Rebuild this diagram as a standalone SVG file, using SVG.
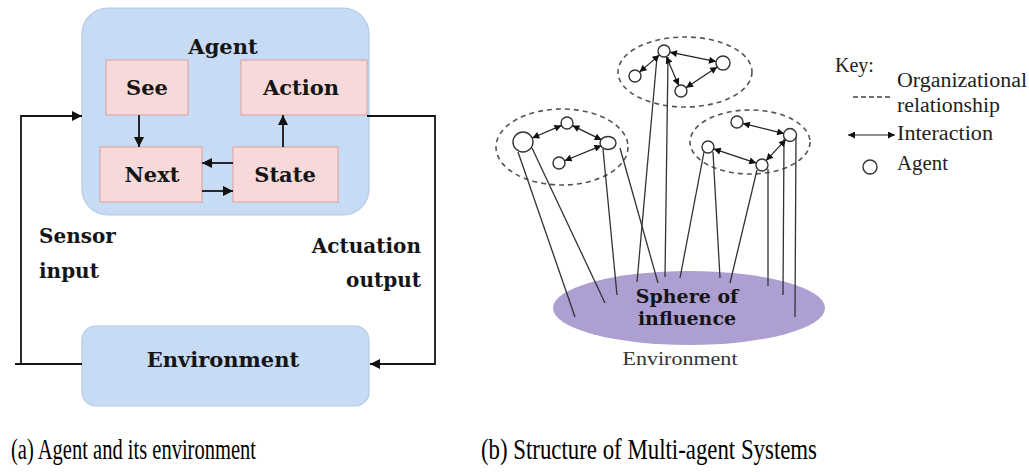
<svg xmlns="http://www.w3.org/2000/svg" width="1029" height="472" viewBox="0 0 1029 472">
<style>
.bx{fill:#c7dbf5;stroke:#b3c9e6;stroke-width:1.2}
.pk{fill:#f8d9d9;stroke:#dba9a9;stroke-width:1.2}
.bt{font-family:"DejaVu Serif",serif;font-weight:bold;fill:#151515}
.ln{fill:none;stroke:#151515;stroke-width:1.8}
.rl{fill:none;stroke:#333;stroke-width:1.3}
.ag{fill:#fff;stroke:#333;stroke-width:1.4}
.org{fill:none;stroke:#555;stroke-width:1.6;stroke-dasharray:5 4}
.ia{fill:none;stroke:#222;stroke-width:1.2;marker-start:url(#sa);marker-end:url(#sa)}
.kt{font-family:"Liberation Serif",serif;font-size:20px;fill:#222}
.cap{font-family:"Liberation Serif",serif;font-size:29px;fill:#000}
</style>
<defs>
<marker id="la" viewBox="0 0 10 10" refX="10" refY="5" markerWidth="11" markerHeight="10" markerUnits="userSpaceOnUse" orient="auto-start-reverse"><path d="M0,0 L10,5 L0,10 z" fill="#111"/></marker>
<marker id="sa" viewBox="0 0 10 10" refX="10" refY="5" markerWidth="8" markerHeight="7" markerUnits="userSpaceOnUse" orient="auto-start-reverse"><path d="M0,0 L10,5 L0,10 z" fill="#111"/></marker>
</defs>
<rect width="1029" height="472" fill="#fff"/>

<!-- Left figure -->
<g id="agent">
<rect class="bx" x="82" y="8" width="287" height="207" rx="26"/>
<text class="bt" x="223" y="54" font-size="21" text-anchor="middle">Agent</text>
</g>
<g id="see"><rect class="pk" x="106" y="60" width="82" height="55"/><text class="bt" x="147" y="95" font-size="21" text-anchor="middle">See</text></g>
<g id="action"><rect class="pk" x="241" y="60" width="126" height="55"/><text class="bt" x="301" y="95" font-size="21" text-anchor="middle">Action</text></g>
<g id="next"><rect class="pk" x="100" y="147" width="102" height="55"/><text class="bt" x="152" y="182" font-size="21" text-anchor="middle">Next</text></g>
<g id="state"><rect class="pk" x="233" y="147" width="105" height="55"/><text class="bt" x="285" y="182" font-size="21" text-anchor="middle">State</text></g>
<g id="environment-a">
<rect class="bx" x="82" y="326" width="287" height="80" rx="14"/>
<text class="bt" x="223" y="367" font-size="21" text-anchor="middle">Environment</text>
</g>
<g id="connectors-a">
<path class="ln" d="M82,364 H15"/>
<path class="ln" d="M21,364 V116 H82" marker-end="url(#la)"/>
<path class="ln" d="M367,116 H435 V364 H370" marker-end="url(#la)"/>
<path class="ln" d="M139,115 V147" marker-end="url(#la)"/>
<path class="ln" d="M283,147 V115" marker-end="url(#la)"/>
<path class="ln" d="M233,163 H202" marker-end="url(#la)"/>
<path class="ln" d="M202,191 H233" marker-end="url(#la)"/>
</g>
<g id="labels-a">
<text class="bt" x="39" y="243" font-size="20">Sensor</text>
<text class="bt" x="39" y="278" font-size="20">input</text>
<text class="bt" x="421" y="253" font-size="20" text-anchor="end">Actuation</text>
<text class="bt" x="421" y="287" font-size="20" text-anchor="end">output</text>
</g>

<!-- Right figure -->
<g id="sphere">
<ellipse cx="689" cy="308" rx="136" ry="37" fill="#ad9fd1"/>
</g>
<g id="orgs">
<ellipse class="org" cx="562" cy="147" rx="66" ry="38"/>
<ellipse class="org" cx="685" cy="72" rx="67" ry="35"/>
<ellipse class="org" cx="750" cy="142" rx="60" ry="32"/>
</g>
<g id="connectors-b">
<path class="rl" d="M518,152 L575,317"/>
<path class="rl" d="M532,148 L605,303"/>
<path class="rl" d="M603,149 L617,295"/>
<path class="rl" d="M620,148 L658,283"/>
<path class="rl" d="M657,57 L637,282"/>
<path class="rl" d="M668,57 L665,277"/>
<path class="rl" d="M704,152 L680,278"/>
<path class="rl" d="M713,152 L720,278"/>
<path class="rl" d="M757,170 L730,283"/>
<path class="rl" d="M768,169 L768,286"/>
<path class="rl" d="M784,139 L783,295"/>
<path class="rl" d="M796,137 L795,317"/>
<path class="ia" d="M532.2,138 L561.5,125.4"/>
<path class="ia" d="M572.4,125.6 L601.7,139.9"/>
<path class="ia" d="M601.5,145.6 L564.6,160.7"/>
<path class="ia" d="M659.5,54.9 L639.5,72.1"/>
<path class="ia" d="M669.9,52.2 L716.1,61.6"/>
<path class="ia" d="M717.2,66.9 L686,87.7"/>
<path class="ia" d="M666.3,56.5 L678.7,85.5"/>
<path class="ia" d="M742.8,123.4 L784.2,133.6"/>
<path class="ia" d="M713.7,148.9 L756.3,163.1"/>
<path class="ia" d="M766.1,160.6 L785.9,139.4"/>
</g>
<g id="agents-left">
<circle class="ag" cx="523" cy="142" r="10"/>
<circle class="ag" cx="567" cy="123" r="6"/>
<ellipse class="ag" cx="608" cy="143" rx="8" ry="6.5"/>
<circle class="ag" cx="559" cy="163" r="6"/>
</g>
<g id="agents-top">
<circle class="ag" cx="664" cy="51" r="6"/>
<circle class="ag" cx="723" cy="63" r="7"/>
<circle class="ag" cx="635" cy="76" r="6"/>
<circle class="ag" cx="681" cy="91" r="6"/>
</g>
<g id="agents-right">
<circle class="ag" cx="737" cy="122" r="6"/>
<circle class="ag" cx="790" cy="135" r="6.5"/>
<circle class="ag" cx="708" cy="147" r="6"/>
<circle class="ag" cx="762" cy="165" r="6"/>
</g>
<g id="sphere-label">
<text class="bt" x="687" y="303" font-size="19" text-anchor="middle" fill="#1e1530">Sphere of</text>
<text class="bt" x="687" y="325" font-size="19" text-anchor="middle" fill="#1e1530">influence</text>
<text x="680" y="365" font-family="Liberation Serif, serif" font-size="19" fill="#333" text-anchor="middle" textLength="115" lengthAdjust="spacingAndGlyphs">Environment</text>
</g>
<g id="key">
<text class="kt" x="835" y="72">Key:</text>
<text class="kt" x="897" y="87" textLength="130" lengthAdjust="spacingAndGlyphs">Organizational</text>
<path d="M853,97 H893" stroke="#444" stroke-width="1.3" stroke-dasharray="5 3"/>
<text class="kt" x="897" y="112" textLength="103" lengthAdjust="spacingAndGlyphs">relationship</text>
<path class="ia" d="M848,135 H895"/>
<text class="kt" x="897" y="140" textLength="96" lengthAdjust="spacingAndGlyphs">Interaction</text>
<circle class="ag" cx="870" cy="167" r="7"/>
<text class="kt" x="897" y="170" textLength="51" lengthAdjust="spacingAndGlyphs">Agent</text>
</g>

<g id="captions">
<text class="cap" x="11" y="459" textLength="245" lengthAdjust="spacingAndGlyphs">(a) Agent and its environment</text>
<text class="cap" x="481" y="459" textLength="336" lengthAdjust="spacingAndGlyphs">(b) Structure of Multi-agent Systems</text>
</g>
</svg>
